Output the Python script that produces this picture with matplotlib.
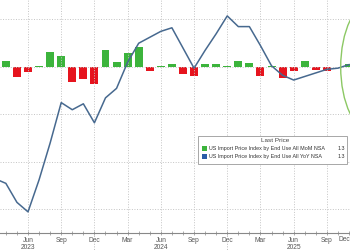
import matplotlib
matplotlib.use('Agg')
import matplotlib.pyplot as plt
import matplotlib.transforms as mtransforms
from matplotlib.patches import Ellipse, Rectangle
import numpy as np

plt.rcParams['font.family'] = ['Liberation Sans', 'DejaVu Sans']

# monthly data, Mar 2023 .. Nov 2025
months = ['2023-03', '2023-04', '2023-05', '2023-06', '2023-07', '2023-08', '2023-09',
          '2023-10', '2023-11', '2023-12', '2024-01', '2024-02', '2024-03', '2024-04',
          '2024-05', '2024-06', '2024-07', '2024-08', '2024-09', '2024-10', '2024-11',
          '2024-12', '2025-01', '2025-02', '2025-03', '2025-04', '2025-05', '2025-06',
          '2025-07', '2025-08', '2025-09', '2025-10', '2025-11']
yoy = [-4.7, -4.9, -5.7, -6.1, -4.75, -3.2, -1.5, -1.8, -1.55, -2.35, -1.3, -0.9,
       0.2, 1.0, 1.25, 1.5, 1.65, 0.8, -0.05, 0.7, 1.4, 2.15, 1.7, 1.7, 0.9, 0.05,
       -0.35, -0.55, -0.4, -0.25, -0.1, -0.05, 0.1]

mom_months = months[1:]
mom = [0.3, -0.5, -0.25, 0.04, 0.75, 0.55, -0.75, -0.6, -0.85, 0.85, 0.25, 0.7,
       1.0, -0.2, 0.05, 0.15, -0.35, -0.45, 0.15, 0.15, 0.05, 0.3, 0.22, -0.45,
       0.05, -0.55, -0.2, 0.3, -0.15, -0.2, 0.0, 0.15]

tick_names = ['Jun', 'Sep', 'Dec', 'Mar']
mom_label = 'US Import Price Index by End Use All MoM NSA'
yoy_label = 'US Import Price Index by End Use All YoY NSA'
mom_last = '1.3'
yoy_last = '1.3'

GREEN = '#3cb43c'
RED = '#e6141e'
LINE = '#47698f'
BLUE = '#2b5ca8'


def month_index(s):
    y, m = s.split('-')
    return (int(y) - 2023) * 12 + int(m) - 6


x_yoy = np.array([month_index(s) for s in months])
x_mom = np.array([month_index(s) for s in mom_months])

fig = plt.figure(figsize=(3.5, 2.5), dpi=100)
ax = fig.add_axes([0, 17 / 250, 1, 233 / 250])
axb = ax.twinx()
ax.set_zorder(axb.get_zorder() + 1)
ax.patch.set_visible(False)

ax.set_xlim(-2.53, 29.09)
ax.set_ylim(-6.99, 2.82)
axb.set_ylim(-8.3, 3.35)

bar_colors = [GREEN if v >= 0 else RED for v in mom]
axb.bar(x_mom, mom, width=0.72, color=bar_colors, zorder=2)
ax.plot(x_yoy, yoy, color=LINE, lw=1.1, zorder=3)

# grid
ax.set_yticks([-6, -4, -2, 0, 2])
ax.yaxis.grid(True, linestyle=':', color='#c4c4c4', lw=0.7)
ax.xaxis.grid(True, which='major', linestyle=':', color='#c4c4c4', lw=0.7)
ax.tick_params(axis='y', left=False, labelleft=False)
axb.tick_params(axis='y', right=False, labelright=False)

major = np.arange(0, 28, 3)
labels = []
for m in major:
    name = tick_names[(m // 3) % 4]
    if name == 'Jun':
        name += '\n' + str(2023 + m // 12)
    labels.append(name)
ax.set_xticks(major)
ax.set_xticklabels(labels, linespacing=1.05)
ax.set_xticks(np.arange(-2, 30), minor=True)
ax.tick_params(axis='x', which='both', direction='inout', length=3, width=0.5,
               color='#888888', labelsize=4.8, labelcolor='#555555', pad=1.5)

for a in (ax, axb):
    for side in ('top', 'left', 'right', 'bottom'):
        a.spines[side].set_visible(False)
ax.spines['bottom'].set_visible(True)
ax.spines['bottom'].set_color('#888888')
ax.spines['bottom'].set_linewidth(0.8)

# year separators below the axis
trans = mtransforms.blended_transform_factory(ax.transData, ax.transAxes)
for m in (6, 18):
    ax.plot([m, m], [0, -0.08], transform=trans, clip_on=False,
            ls=':', color='#bbbbbb', lw=0.7)

# last quarter label squeezed against the right edge
ax.text(1.0, -0.012, 'Dec', transform=ax.transAxes, ha='right', va='top',
        fontsize=4.8, color='#555555')

# highlight circle around the latest prints
ax.add_patch(Ellipse((x_yoy[-1] + 2.1, 0), 5.7, 5.5, fill=False,
                     edgecolor='#8cc864', lw=1.0, zorder=4))


# legend box drawn in pixel coords
def px(x, y):
    return (x / 350, 1 - y / 250)


lx0, ly0, lx1, ly1 = 198, 136, 347, 164
fig.patches.append(Rectangle(px(lx0, ly1), (lx1 - lx0) / 350, (ly1 - ly0) / 250,
                             transform=fig.transFigure, facecolor='white',
                             edgecolor='#999999', lw=0.6, zorder=5))
fig.text(*px(275, 141), 'Last Price', ha='center', va='center', fontsize=4.6,
         color='#444444', zorder=6)
for yy, col, lab, val in ((148.5, GREEN, mom_label, mom_last),
                          (156.5, BLUE, yoy_label, yoy_last)):
    fig.patches.append(Rectangle(px(202, yy + 2.5), 5 / 350, 5 / 250,
                                 transform=fig.transFigure, facecolor=col,
                                 edgecolor='none', zorder=6))
    fig.text(*px(209, yy), lab, ha='left', va='center', fontsize=3.9,
             color='#333333', zorder=6)
    fig.text(*px(345, yy), val, ha='right', va='center', fontsize=3.9,
             color='#333333', zorder=6)

fig.savefig('out.png', dpi=100)
